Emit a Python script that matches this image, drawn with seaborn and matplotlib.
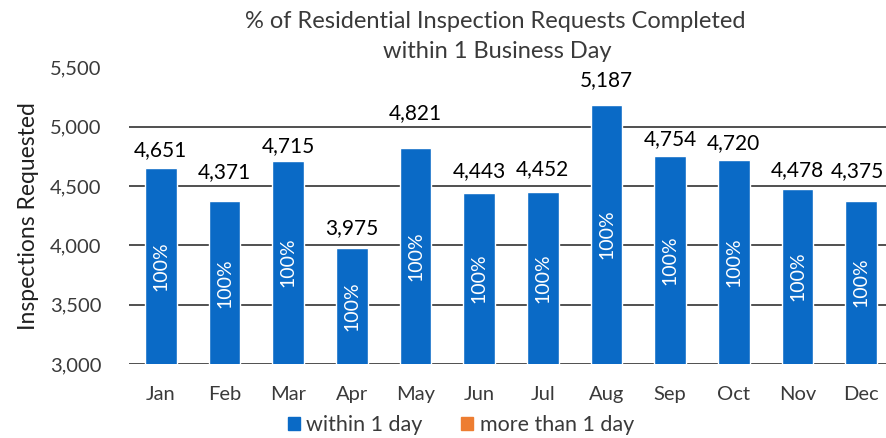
"""
住宅検査依頼件数（1営業日以内の完了率）棒グラフ
"""
import matplotlib
matplotlib.use('Agg')
import matplotlib.pyplot as plt
from matplotlib.patches import Patch
import seaborn as sns
import pandas as pd

# データ
months = ['Jan', 'Feb', 'Mar', 'Apr', 'May', 'Jun',
          'Jul', 'Aug', 'Sep', 'Oct', 'Nov', 'Dec']
within_1_day = [4651, 4371, 4715, 3975, 4821, 4443,
                4452, 5187, 4754, 4720, 4478, 4375]
more_than_1_day = [0, 0, 0, 0, 0, 0, 0, 0, 0, 0, 0, 0]
y_ticks = [3000, 3500, 4000, 4500, 5000, 5500]

# 見た目の設定
BLUE = '#0A6AC6'
ORANGE = '#ED7D31'
GRID = '#505050'
TEXT = '#3A3A3A'
# 合計ラベルはバー上端からの距離がまちまち（手動配置）なので個別にずらす
label_dy = [18, 29, 15, 20, 35, 22, 23, 25, 17, 17, 19, 30]
label_dx = [0, 0, 0, 0, 0, 0, 0, 0, 0, 0, 0, -4]

sns.set_theme(style='white')
plt.rcParams['font.family'] = ['Lato', 'DejaVu Sans']

df = pd.DataFrame({'month': months,
                   'within': within_1_day,
                   'more': more_than_1_day})
df['total'] = df['within'] + df['more']
df['pct'] = df['within'] / df['total'] * 100

fig = plt.figure(figsize=(8.87, 4.38), dpi=100)
W, H = 887, 438
ax = fig.add_axes([129 / W, 1 - 364 / H, 764 / W, (364 - 67.5) / H])

sns.barplot(data=df, x='month', y='within', color=BLUE, width=0.5,
            saturation=1, ax=ax, zorder=3)
sns.barplot(data=df, x='month', y='more', color=ORANGE, width=0.5,
            saturation=1, ax=ax, zorder=3)

ax.set_ylim(3000, 5500)
ax.set_xlim(-0.5, 11.5)
ax.set_yticks(y_ticks)
ax.set_yticklabels([f'{v:,}' for v in y_ticks])
ax.yaxis.grid(True, color=GRID, linewidth=1.4, zorder=0)
ax.set_axisbelow(True)
for s in ax.spines.values():
    s.set_visible(False)
ax.tick_params(axis='y', length=0, pad=20, labelsize=14.5, labelcolor=TEXT)
ax.tick_params(axis='x', length=0, pad=16, labelsize=14.5, labelcolor=TEXT)
ax.set_xlabel('')
ax.set_ylabel('Inspections Requested', fontsize=16.5, color='#202020', labelpad=8)

# ラベル
for i, row in df.iterrows():
    ax.annotate(f"{row['total']:,}", (i, row['total']),
                xytext=(label_dx[i], label_dy[i]), textcoords='offset pixels',
                ha='center', va='center', fontsize=15, color='black')
    ax.text(i, (3000 + row['within']) / 2, f"{row['pct']:.0f}%",
            rotation=90, ha='center', va='center', fontsize=14,
            color='white', zorder=4)

fig.text(495 / W, 1 - 22 / H, '% of Residential Inspection Requests Completed',
         ha='center', va='center', fontsize=17, color=TEXT)
fig.text(497 / W, 1 - 52 / H, 'within 1 Business Day',
         ha='center', va='center', fontsize=17, color=TEXT)

handles = [Patch(color=BLUE, label='within 1 day'),
           Patch(color=ORANGE, label='more than 1 day')]
fig.legend(handles=handles, loc='center', bbox_to_anchor=(461 / W, 1 - 425 / H),
           ncol=2, frameon=False, fontsize=15.5, handlelength=0.55,
           handleheight=0.55, handletextpad=0.3, columnspacing=1.8,
           labelcolor=TEXT)

fig.savefig('out.png', dpi=100)
